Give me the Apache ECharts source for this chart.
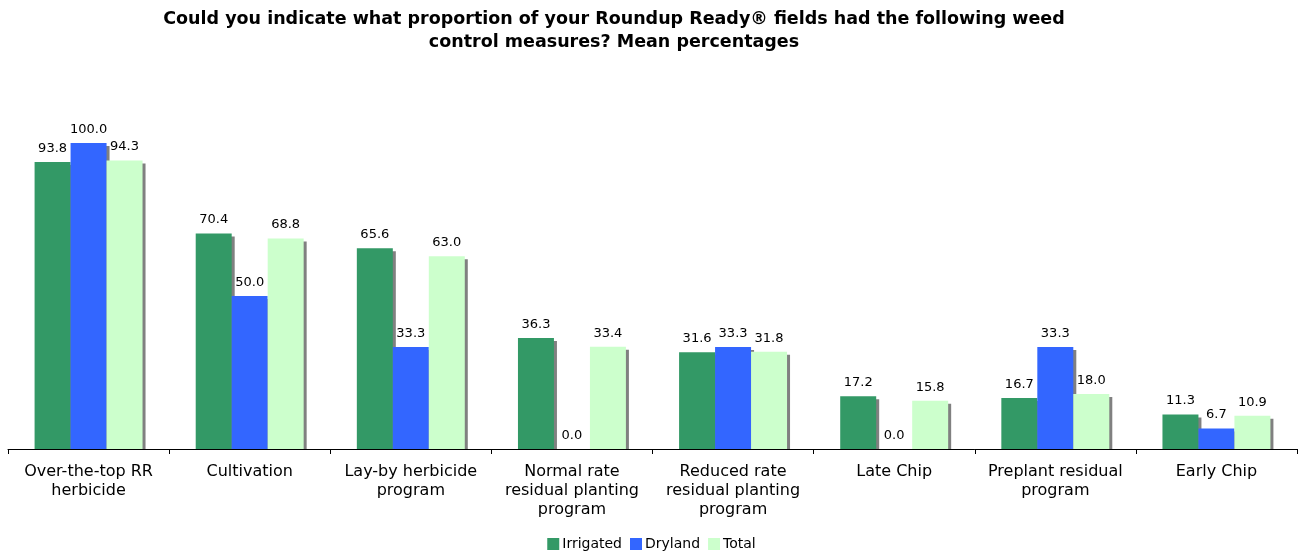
<!DOCTYPE html>
<html><head><meta charset="utf-8">
<script src="https://cdn.jsdelivr.net/npm/echarts@6/dist/echarts.min.js"></script>
<style>html,body{margin:0;padding:0;background:#fff}#c{width:1303px;height:554px}</style>
</head><body><div id="c"></div>
<script>
const categories = ["Over-the-top RR\nherbicide","Cultivation","Lay-by herbicide\nprogram","Normal rate\nresidual planting\nprogram","Reduced rate\nresidual planting\nprogram","Late Chip","Preplant residual\nprogram","Early Chip"];
const irrigated = [93.8,70.4,65.6,36.3,31.6,17.2,16.7,11.3];
const dryland = [100.0,50.0,33.3,0.0,33.3,0.0,33.3,6.7];
const total = [94.3,68.8,63.0,33.4,31.8,15.8,18.0,10.9];
const seriesNames = ["Irrigated","Dryland","Total"];
const colors = ["#339966","#3366FF","#CCFFCC"];
const font = "Verdana, 'DejaVu Sans', sans-serif";
const chart = echarts.init(document.getElementById('c'));
function mk(name, data, color){
  return {name, type:'bar', data, barGap:'0%', barCategoryGap:'33%', z:2,
    itemStyle:{color, shadowColor:'#808080', shadowBlur:0, shadowOffsetX:3, shadowOffsetY:3},
    label:{show:true, position:'top', distance:7, color:'#000', fontFamily:font, fontSize:13, formatter:p=>p.value.toFixed(1)},
    emphasis:{disabled:true}, animation:false};
}
chart.setOption({
  animation:false,
  title:{text:"Could you indicate what proportion of your Roundup Ready® fields had the following weed\ncontrol measures? Mean percentages",
    left:614, top:8, padding:0, textAlign:'center',
    textStyle:{fontFamily:font, fontWeight:'bold', fontSize:17.5, lineHeight:23, color:'#000'}},
  legend:{data:seriesNames, top:537, left:'center', padding:0, itemWidth:12, itemHeight:12, itemGap:8, icon:'rect',
    textStyle:{fontFamily:font, fontSize:14, color:'#000', padding:[0,0,0,-2]}},
  grid:{left:8, right:6, top:143, bottom:105, containLabel:false},
  xAxis:{type:'category', data:categories, z:10,
    axisLine:{lineStyle:{color:'#000', width:1}},
    axisTick:{show:true, length:5, lineStyle:{color:'#000'}},
    axisLabel:{fontFamily:font, fontSize:16, color:'#000', margin:13, lineHeight:19, interval:0}},
  yAxis:{type:'value', min:0, max:100, show:false, splitLine:{show:false}},
  graphic:[{type:'rect', z:5, shape:{x:0, y:450, width:1303, height:5}, style:{fill:'#fff'}}],
  series:[mk(seriesNames[0], irrigated, colors[0]), mk(seriesNames[1], dryland, colors[1]), mk(seriesNames[2], total, colors[2])]
});
</script></body></html>
